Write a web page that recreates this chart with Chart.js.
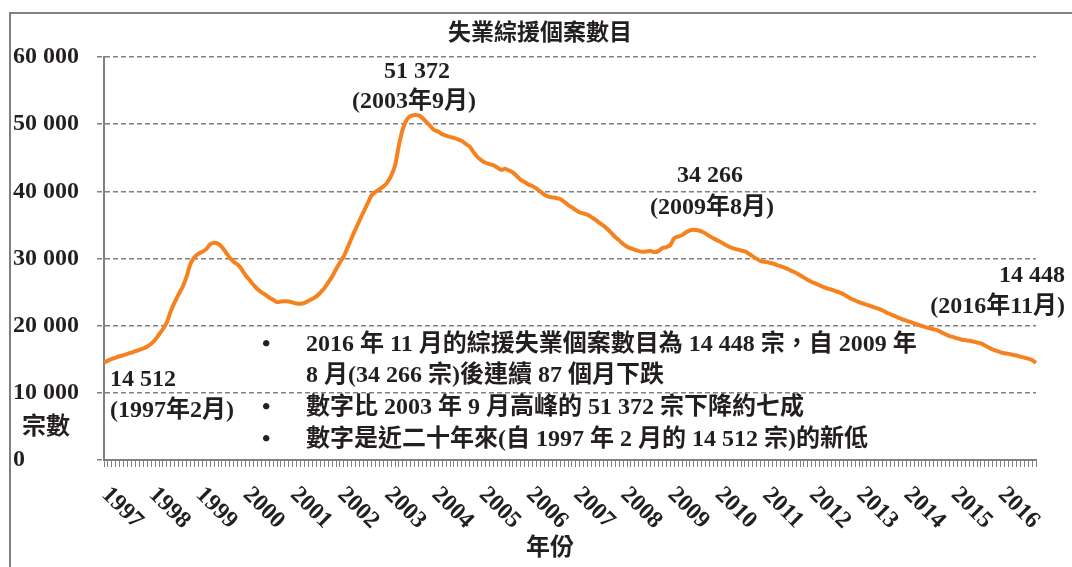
<!DOCTYPE html>
<html>
<head>
<meta charset="utf-8">
<script src="https://cdn.jsdelivr.net/npm/chart.js@4.4.1/dist/chart.umd.min.js"></script>
<style>
  html, body { margin: 0; background: #fff; }
</style>
</head>
<body>
<canvas id="chart" width="1072" height="567"></canvas>
<script>
// monthly CSSA unemployment cases, Feb 1997 .. Nov 2016
const firstYear = 1997;
const firstMonth = 2;
const cases1997 = [14512, 14800, 15050, 15250, 15450, 15620, 15800, 16000, 16200, 16400, 16600];
const cases1998 = [16900, 17300, 17900, 18700, 19500, 20500, 22200, 23500, 24700, 25800, 27300, 29200];
const cases1999 = [30200, 30700, 31000, 31400, 32100, 32350, 32200, 31700, 30900, 30100, 29500, 29100];
const cases2000 = [28400, 27500, 26800, 26100, 25450, 25000, 24600, 24200, 23850, 23500, 23600, 23650];
const cases2001 = [23600, 23450, 23300, 23250, 23400, 23700, 24000, 24350, 24900, 25550, 26400, 27300];
const cases2002 = [28400, 29400, 30350, 31700, 33100, 34400, 35700, 36950, 38150, 39350, 39900, 40300];
const cases2003 = [40700, 41300, 42300, 43800, 46900, 49300, 50700, 51200, 51372, 51300, 50900, 50300];
const cases2004 = [49700, 49100, 48900, 48500, 48300, 48100, 47950, 47750, 47500, 47050, 46650, 45800];
const cases2005 = [45100, 44600, 44250, 44050, 43900, 43550, 43200, 43350, 43100, 42800, 42250, 41700];
const cases2006 = [41350, 41000, 40750, 40400, 39950, 39500, 39200, 39100, 39000, 38850, 38450, 38000];
const cases2007 = [37600, 37200, 36850, 36700, 36500, 36150, 35750, 35300, 34900, 34400, 33800, 33200];
const cases2008 = [32700, 32150, 31750, 31500, 31300, 31100, 31000, 31050, 31100, 30950, 31100, 31550];
const cases2009 = [31700, 32000, 33050, 33250, 33480, 33900, 34200, 34266, 34200, 34000, 33700, 33300];
const cases2010 = [33000, 32700, 32400, 32050, 31750, 31500, 31350, 31200, 31050, 30700, 30300, 29950];
const cases2011 = [29600, 29500, 29400, 29250, 29050, 28850, 28650, 28400, 28100, 27850, 27500, 27150];
const cases2012 = [26800, 26500, 26250, 26000, 25750, 25530, 25350, 25150, 24950, 24700, 24350, 24000];
const cases2013 = [23750, 23500, 23300, 23100, 22900, 22700, 22500, 22250, 21950, 21700, 21450, 21200];
const cases2014 = [20950, 20750, 20550, 20350, 20150, 19950, 19750, 19600, 19450, 19300, 19000, 18700];
const cases2015 = [18450, 18300, 18100, 17950, 17850, 17750, 17650, 17500, 17350, 17050, 16750, 16450];
const cases2016 = [16250, 16030, 15900, 15800, 15680, 15550, 15400, 15250, 15100, 14900, 14448];

const yearly = [cases1997, cases1998, cases1999, cases2000, cases2001, cases2002, cases2003,
  cases2004, cases2005, cases2006, cases2007, cases2008, cases2009, cases2010, cases2011,
  cases2012, cases2013, cases2014, cases2015, cases2016];

const chartTitle = '失業綜援個案數目';
const yTitle = '宗數';
const xTitle = '年份';
const yTicks = [0, 10000, 20000, 30000, 40000, 50000, 60000];
const notes = [
  '2016 年 11 月的綜援失業個案數目為 14 448 宗，自 2009 年',
  '8 月(34 266 宗)後連續 87 個月下跌',
  '數字比 2003 年 9 月高峰的 51 372 宗下降約七成',
  '數字是近二十年來(自 1997 年 2 月的 14 512 宗)的新低',
];

const years = yearly.map((_, i) => firstYear + i);
const labels = [];
const values = [];
yearly.forEach((arr, i) => {
  const start = i === 0 ? firstMonth : 1;
  arr.forEach((v, j) => {
    labels.push(`${years[i]}年${start + j}月`);
    values.push(v);
  });
});

const fmt = (v) => v.toLocaleString('en-US').replace(/,/g, ' ');
const font = (size) => `bold ${size}px "Liberation Serif", "Noto Sans CJK TC", serif`;
const ink = '#231f20';
const gray = '#808080';

const decor = {
  id: 'decor',
  afterDraw(chart) {
    const { ctx, scales: { x } } = chart;
    ctx.save();
    ctx.strokeStyle = gray;
    ctx.lineWidth = 2;
    ctx.strokeRect(10, 13, 1200, 700);

    ctx.fillStyle = ink;
    ctx.textBaseline = 'middle';
    ctx.textAlign = 'center';
    ctx.font = font(23);
    ctx.fillText(chartTitle, 540, 34);

    ctx.font = font(24);
    const peakIdx = values.indexOf(Math.max(...values));
    const peak2Idx = values.indexOf(34266);
    const lastIdx = values.length - 1;
    ctx.fillText(fmt(values[peakIdx]), 417, 72);
    ctx.fillText(`(${labels[peakIdx]})`, 414, 102);
    ctx.fillText(fmt(values[peak2Idx]), 710, 176);
    ctx.fillText(`(${labels[peak2Idx]})`, 712, 208);
    ctx.textAlign = 'right';
    ctx.fillText(fmt(values[lastIdx]), 1065, 276);
    ctx.fillText(`(${labels[lastIdx]})`, 1065, 307);
    ctx.textAlign = 'left';
    ctx.fillText(fmt(values[0]), 110, 380);
    ctx.fillText(`(${labels[0]})`, 110, 411);
    ctx.fillText(yTitle, 22, 428);

    const noteY = [345, 376, 408, 440];
    notes.forEach((t, i) => {
      if (i !== 1) ctx.fillText('•', 262, noteY[i]);
      ctx.fillText(t, 306, noteY[i]);
    });

    ctx.textAlign = 'center';
    ctx.fillText(xTitle, 550, 549);

    // year labels, rotated, centred on each year's middle
    years.forEach((yr, i) => {
      const px = x.getPixelForValue(i * 12 + 4.6);
      ctx.save();
      ctx.translate(px, 508);
      ctx.rotate(Math.PI / 4);
      ctx.fillText(String(yr), 0, 0);
      ctx.restore();
    });
    ctx.restore();
  },
};

new Chart(document.getElementById('chart'), {
  type: 'line',
  data: {
    labels,
    datasets: [{
      data: values,
      borderColor: '#f5821f',
      borderWidth: 4,
      pointRadius: 0,
      tension: 0.3,
      fill: false,
    }],
  },
  options: {
    responsive: false,
    animation: false,
    layout: { padding: { left: 13, right: 36, top: 57, bottom: 0 } },
    plugins: { legend: { display: false }, tooltip: { enabled: false } },
    scales: {
      x: {
        ticks: { display: false, autoSkip: false },
        grid: { drawOnChartArea: false, drawTicks: true, tickLength: 7, color: gray, lineWidth: 1 },
        border: { display: true, color: gray, width: 2 },
        afterFit: (scale) => { scale.height = 107; },
      },
      y: {
        min: 0,
        max: 60000,
        afterBuildTicks: (scale) => { scale.ticks = yTicks.map((v) => ({ value: v })); },
        ticks: {
          crossAlign: 'far',
          color: ink,
          font: { family: '"Liberation Serif", serif', size: 24, weight: 'bold' },
          callback: (v) => fmt(v),
        },
        grid: { color: gray, lineWidth: 1.5, tickLength: 7, tickBorderDash: [5, 3] },
        border: { display: true, color: gray, width: 2, dash: [5, 3] },
        afterFit: (scale) => { scale.width = 91; },
      },
    },
  },
  plugins: [decor],
});
</script>
</body>
</html>
